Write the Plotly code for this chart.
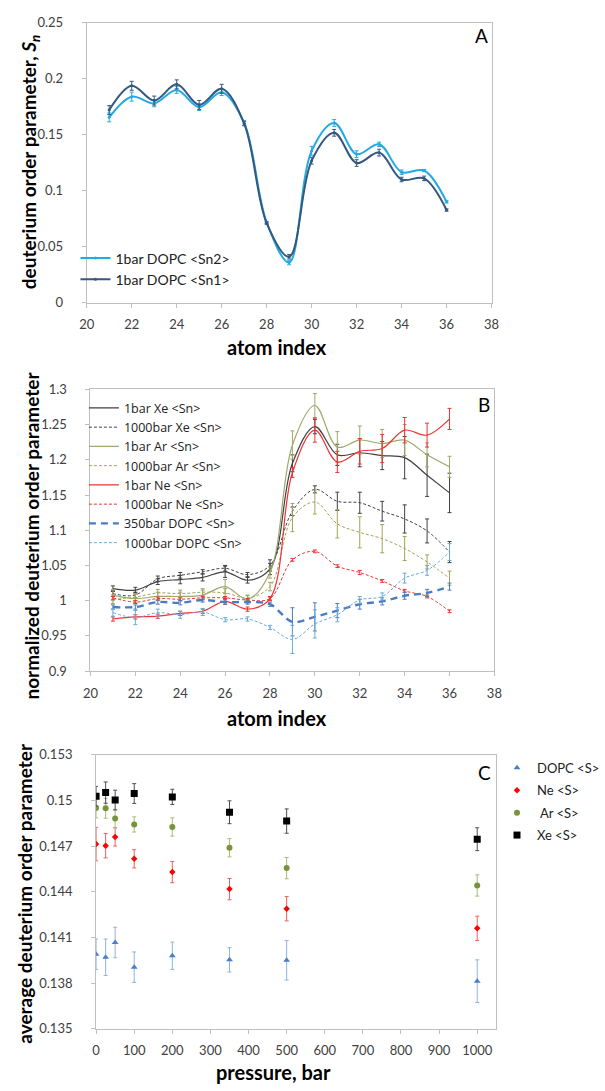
import plotly.graph_objects as go

W, H = 605, 1091
FONT = "Lato"

# ---------------- Panel A data ----------------
atoms = list(range(21, 37))
sn2 = [0.1655, 0.184, 0.178, 0.190, 0.1746, 0.188, 0.1605, 0.0716, 0.0358, 0.1356, 0.1605, 0.1326, 0.1414, 0.1165, 0.118, 0.090]
sn2_err = [0.004, 0.004, 0.003, 0.003, 0.003, 0.003, 0.002, 0.001, 0.002, 0.004, 0.003, 0.003, 0.002, 0.002, 0.001, 0.001]
sn1 = [0.172, 0.1937, 0.1805, 0.195, 0.1766, 0.191, 0.160, 0.071, 0.041, 0.1268, 0.1517, 0.1247, 0.134, 0.110, 0.111, 0.0827]
sn1_err = [0.004, 0.004, 0.004, 0.004, 0.004, 0.004, 0.002, 0.001, 0.002, 0.003, 0.003, 0.003, 0.003, 0.002, 0.002, 0.001]

# ---------------- Panel B data ----------------
xe_1 = [1.017, 1.015, 1.027, 1.030, 1.033, 1.041, 1.029, 1.045, 1.195, 1.247, 1.207, 1.210, 1.206, 1.203, 1.178, 1.153]
xe_1_err = [0.004, 0.004, 0.004, 0.006, 0.005, 0.008, 0.004, 0.008, 0.012, 0.01, 0.015, 0.02, 0.02, 0.03, 0.03, 0.028]
xe_1000 = [1.010, 1.008, 1.031, 1.036, 1.041, 1.046, 1.037, 1.050, 1.127, 1.158, 1.141, 1.139, 1.127, 1.116, 1.099, 1.069]
xe_1000_err = [0.004, 0.004, 0.004, 0.004, 0.003, 0.004, 0.003, 0.008, 0.006, 0.005, 0.013, 0.015, 0.014, 0.02, 0.017, 0.015]
ar_1 = [1.008, 1.003, 1.006, 1.006, 1.008, 1.020, 1.002, 1.040, 1.221, 1.277, 1.218, 1.228, 1.223, 1.228, 1.207, 1.190]
ar_1_err = [0.008, 0.006, 0.006, 0.006, 0.007, 0.010, 0.005, 0.008, 0.02, 0.017, 0.022, 0.02, 0.02, 0.022, 0.017, 0.015]
ar_1000 = [1.002, 1.005, 1.011, 1.010, 1.012, 1.011, 1.004, 1.020, 1.118, 1.140, 1.109, 1.097, 1.088, 1.074, 1.055, 1.032]
ar_1000_err = [0.006, 0.005, 0.005, 0.005, 0.005, 0.006, 0.004, 0.006, 0.02, 0.017, 0.02, 0.022, 0.02, 0.017, 0.01, 0.01]
ne_1 = [0.974, 0.977, 0.978, 0.982, 0.985, 0.999, 0.988, 1.003, 1.182, 1.242, 1.197, 1.212, 1.216, 1.242, 1.235, 1.258]
ne_1_err = [0.003, 0.003, 0.003, 0.003, 0.003, 0.004, 0.003, 0.003, 0.007, 0.017, 0.015, 0.018, 0.02, 0.018, 0.017, 0.015]
ne_1000 = [1.004, 0.998, 1.003, 1.002, 1.004, 1.004, 1.001, 1.003, 1.058, 1.070, 1.049, 1.040, 1.028, 1.014, 1.006, 0.985]
ne_1000_err = [0.002, 0.002, 0.002, 0.002, 0.002, 0.002, 0.002, 0.002, 0.002, 0.002, 0.002, 0.003, 0.002, 0.002, 0.002, 0.002]
dopc_350 = [0.991, 0.991, 0.998, 0.997, 1.001, 0.998, 0.998, 0.995, 0.970, 0.977, 0.986, 0.995, 0.999, 1.007, 1.011, 1.020]
dopc_350_err = [0.003, 0.003, 0.003, 0.003, 0.003, 0.003, 0.003, 0.003, 0.02, 0.02, 0.01, 0.007, 0.005, 0.005, 0.005, 0.005]
dopc_1000 = [0.983, 0.976, 0.983, 0.980, 0.984, 0.973, 0.974, 0.962, 0.945, 0.967, 0.980, 1.001, 1.006, 1.032, 1.043, 1.069]
dopc_1000_err = [0.005, 0.01, 0.005, 0.005, 0.005, 0.003, 0.003, 0.003, 0.02, 0.02, 0.01, 0.005, 0.005, 0.007, 0.007, 0.012]

# ---------------- Panel C data ----------------
pressure = [0, 25, 50, 100, 200, 350, 500, 1000]
s_dopc = [0.1399, 0.1397, 0.14067, 0.13905, 0.1398, 0.13953, 0.1395, 0.13813]
s_dopc_err = [0.0010, 0.0012, 0.0010, 0.0010, 0.0009, 0.0008, 0.0013, 0.0014]
s_ne = [0.14714, 0.14703, 0.14761, 0.14617, 0.1453, 0.14418, 0.14289, 0.1416]
s_ne_err = [0.0011, 0.0008, 0.0006, 0.0006, 0.0007, 0.0007, 0.0008, 0.0008]
s_ar = [0.14951, 0.14949, 0.14882, 0.14843, 0.14826, 0.1469, 0.14556, 0.14442]
s_ar_err = [0.00065, 0.00065, 0.0006, 0.0005, 0.0006, 0.0006, 0.0007, 0.0007]
s_xe = [0.15028, 0.15052, 0.15003, 0.15046, 0.15024, 0.14923, 0.14865, 0.14746]
s_xe_err = [0.00065, 0.0007, 0.00065, 0.00065, 0.0005, 0.00075, 0.0008, 0.00075]


def px(x):
    return x / W


def py(y):
    return 1 - y / H


fig = go.Figure()

# Panel A traces
for name, ys, es, col in [
    ("1bar DOPC &lt;Sn2&gt;", sn2, sn2_err, "#22ABE3"),
    ("1bar DOPC &lt;Sn1&gt;", sn1, sn1_err, "#35587F"),
]:
    fig.add_trace(go.Scatter(
        x=atoms, y=ys, name=name, mode="lines+markers",
        line=dict(color=col, width=2, shape="spline"),
        marker=dict(size=3, color=col),
        error_y=dict(type="data", array=es, color=col, thickness=1, width=2),
        xaxis="x", yaxis="y", legend="legend",
    ))

# Panel B traces
b_series = [
    ("1bar Xe &lt;Sn&gt;", xe_1, xe_1_err, "#404040", "solid", 1.2),
    ("1000bar Xe &lt;Sn&gt;", xe_1000, xe_1000_err, "#404040", "3px,2px", 1.0),
    ("1bar Ar &lt;Sn&gt;", ar_1, ar_1_err, "#9CAA6A", "solid", 1.2),
    ("1000bar Ar &lt;Sn&gt;", ar_1000, ar_1000_err, "#A3A456", "3px,2px", 1.0),
    ("1bar Ne &lt;Sn&gt;", ne_1, ne_1_err, "#EE3333", "solid", 1.2),
    ("1000bar Ne &lt;Sn&gt;", ne_1000, ne_1000_err, "#EE3333", "3px,2px", 1.0),
    ("350bar DOPC &lt;Sn&gt;", dopc_350, dopc_350_err, "#4A7CC0", "7px,5px", 2.4),
    ("1000bar DOPC &lt;Sn&gt;", dopc_1000, dopc_1000_err, "#6AAAD8", "3px,2px", 1.0),
]
for name, ys, es, col, dash, w in b_series:
    fig.add_trace(go.Scatter(
        x=atoms, y=ys, name=name, mode="lines",
        line=dict(color=col, width=w, dash=dash, shape="spline"),
        error_y=dict(type="data", array=es, color=col, thickness=1, width=2),
        xaxis="x2", yaxis="y2", legend="legend2",
    ))

# Panel C traces
c_series = [
    ("DOPC &lt;S&gt;", s_dopc, s_dopc_err, "#4A7EC8", "#8FB2E0", "triangle-up", 6),
    ("Ne &lt;S&gt;", s_ne, s_ne_err, "#FF0000", "#F06060", "diamond", 5),
    (" Ar &lt;S&gt;", s_ar, s_ar_err, "#77933C", "#A8BC7A", "circle", 6),
    ("Xe &lt;S&gt;", s_xe, s_xe_err, "#000000", "#505050", "square", 7),
]
for i, (name, ys, es, col, ecol, sym, sz) in enumerate(c_series):
    fig.add_trace(go.Scatter(
        x=pressure, y=ys, name=name, mode="markers",
        marker=dict(color=col, symbol=sym, size=sz),
        error_y=dict(type="data", array=es, color=ecol, thickness=1, width=2),
        xaxis="x3", yaxis="y3", legend="legend3", legendgroup=f"c{i}",
    ))

axis_common = dict(
    showline=True, linecolor="#BFBFBF", linewidth=1, mirror=True,
    ticks="outside", ticklen=4, tickcolor="#BFBFBF",
    showgrid=False, zeroline=False,
    tickfont=dict(family=FONT, size=13, color="#404040"),
)
xa = dict(ticklabelstandoff=6, **axis_common)
ya = dict(ticklabelstandoff=16, **axis_common)

fig.update_layout(
    width=W, height=H,
    margin=dict(l=0, r=0, t=0, b=0),
    paper_bgcolor="white", plot_bgcolor="white",
    font=dict(family=FONT, color="#000000"),
    xaxis=dict(domain=[px(84), px(516)], range=[20, 38], dtick=2, anchor="y", **xa),
    yaxis=dict(domain=[py(299), py(15)], range=[0, 0.25], dtick=0.05, anchor="x", **ya),
    xaxis2=dict(domain=[px(88), px(519)], range=[20, 38], dtick=2, anchor="y2", **xa),
    yaxis2=dict(domain=[py(673), py(387)], range=[0.9, 1.3], dtick=0.05, anchor="x2", **ya),
    xaxis3=dict(domain=[px(94), px(521)], range=[0, 1050], tick0=0, dtick=100, anchor="y3", **xa),
    yaxis3=dict(domain=[py(1036), py(758)], range=[0.135, 0.153], tick0=0.135, dtick=0.003, anchor="x3", **ya),
    legend=dict(
        x=px(72), y=py(238), xanchor="left", yanchor="top",
        bgcolor="rgba(0,0,0,0)", font=dict(family=FONT, size=14, color="#222222"),
        tracegroupgap=0, itemwidth=30,
    ),
    legend2=dict(
        x=px(81), y=py(391), xanchor="left", yanchor="top",
        bgcolor="rgba(0,0,0,0)", font=dict(family="Open Sans", size=12.5, color="#222222"),
        tracegroupgap=0, itemwidth=30,
    ),
    legend3=dict(
        x=px(522), y=py(756), xanchor="left", yanchor="top",
        bgcolor="rgba(0,0,0,0)", font=dict(family=FONT, size=13, color="#222222"),
        tracegroupgap=2.5, itemwidth=30,
    ),
    showlegend=True,
)

ann = []
# panel letters
for txt, xx, yy in [("A", 505, 28), ("B", 508, 402), ("C", 508, 776)]:
    ann.append(dict(text=txt, x=px(xx), y=py(yy), xref="paper", yref="paper",
                    xanchor="center", yanchor="middle",
                    showarrow=False, font=dict(family=FONT, size=19, color="#000000")))
# x titles
for txt, xx, yy in [("atom index", 287, 344), ("atom index", 287, 721), ("pressure, bar", 283, 1080)]:
    ann.append(dict(text=f"<b>{txt}</b>", x=px(xx), y=py(yy), xref="paper", yref="paper",
                    xanchor="center", yanchor="middle",
                    showarrow=False, font=dict(family=FONT, size=20, color="#000000")))
# y titles
for txt, xx, yy in [
    ("deuterium order parameter, <i>S<sub>n</sub></i>", 23, 157),
    ("normalized deuterium order parameter", 25, 535),
    ("average deuterium order parameter", 18, 898),
]:
    ann.append(dict(text=f"<b>{txt}</b>", x=px(xx), y=py(yy), xref="paper", yref="paper",
                    xanchor="center", yanchor="middle",
                    showarrow=False, textangle=-90,
                    font=dict(family=FONT, size=19, color="#000000")))
fig.update_layout(annotations=ann)

fig.write_html("out.html")
